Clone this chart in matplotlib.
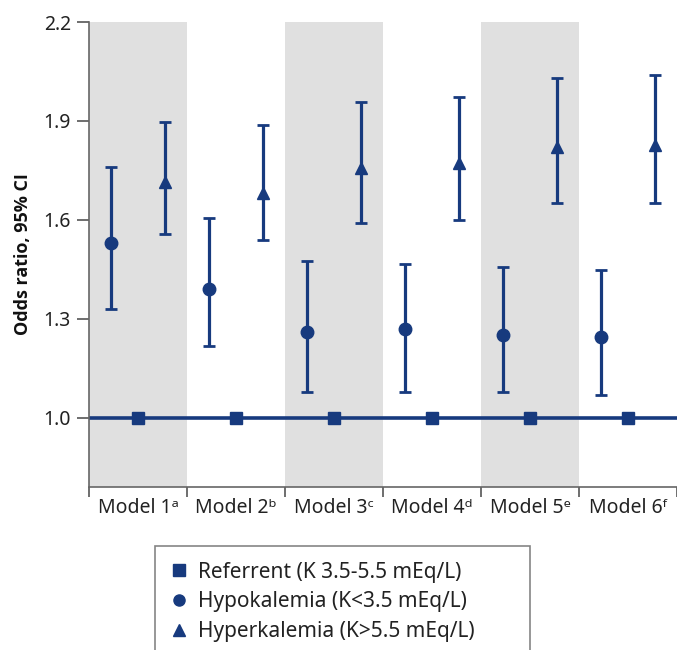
import matplotlib
matplotlib.use("Agg")
import matplotlib.pyplot as plt
from matplotlib.lines import Line2D
import numpy as np

plt.rcParams['font.family'] = ['Noto Sans', 'DejaVu Sans']

models = ["Model 1ᵃ", "Model 2ᵇ", "Model 3ᶜ", "Model 4ᵈ", "Model 5ᵉ", "Model 6ᶠ"]
ref_or = [1.0, 1.0, 1.0, 1.0, 1.0, 1.0]
hypo_or = [1.53, 1.39, 1.26, 1.27, 1.25, 1.245]
hypo_lo = [1.33, 1.218, 1.077, 1.079, 1.077, 1.07]
hypo_hi = [1.76, 1.606, 1.476, 1.467, 1.457, 1.448]
hyper_or = [1.715, 1.68, 1.757, 1.773, 1.82, 1.827]
hyper_lo = [1.558, 1.54, 1.59, 1.60, 1.65, 1.65]
hyper_hi = [1.897, 1.888, 1.958, 1.973, 2.03, 2.04]
legend_labels = ["Referrent (K 3.5-5.5 mEq/L)", "Hypokalemia (K<3.5 mEq/L)", "Hyperkalemia (K>5.5 mEq/L)"]
yticks = [1.0, 1.3, 1.6, 1.9, 2.2]

navy = "#173a7e"
fig = plt.figure(figsize=(6.77, 6.5), dpi=100)
ax = fig.add_axes([89/677, 1-487/650, 1-89/677, (487-22)/650])

n = len(models)
x = np.arange(n)
for i in range(0, n, 2):
    ax.axvspan(i-0.5, i+0.5, color="#e0e0e0", lw=0, zorder=0)

ax.axhline(1.0, color=navy, lw=2.6, zorder=2)
ax.plot(x, ref_or, ls="none", marker="s", ms=8.5, color=navy, zorder=3)

off = 0.275
hx = x - off
ax.errorbar(hx, hypo_or,
            yerr=[np.array(hypo_or)-np.array(hypo_lo), np.array(hypo_hi)-np.array(hypo_or)],
            fmt="o", ms=9, color=navy, ecolor=navy, elinewidth=2.3, capsize=4.5, capthick=2, zorder=3)
tx = x + off
ax.errorbar(tx, hyper_or,
            yerr=[np.array(hyper_or)-np.array(hyper_lo), np.array(hyper_hi)-np.array(hyper_or)],
            fmt="^", ms=9, color=navy, ecolor=navy, elinewidth=2.3, capsize=4.5, capthick=2, zorder=3)

ax.set_xlim(-0.5, n-0.5)
ax.set_ylim(0.79, 2.2)
ax.set_yticks(yticks)
ax.set_yticklabels([f"{v:.1f}" for v in yticks])
ax.set_xticks(np.arange(-0.5, n, 1.0))
ax.set_xticklabels([])
ax.set_xticks(x, minor=True)
ax.set_xticklabels(models, minor=True)
ax.tick_params(axis="x", which="minor", length=0, pad=8, labelsize=14, labelcolor="#222222")
ax.tick_params(axis="x", which="major", length=7, color="#555555", width=1.2)
ax.tick_params(axis="y", length=9, color="#555555", width=1.2, labelsize=14, labelcolor="#222222", pad=4)

for s in ["top", "right"]:
    ax.spines[s].set_visible(False)
for s in ["left", "bottom"]:
    ax.spines[s].set_color("#666666")
    ax.spines[s].set_linewidth(1.2)

ax.set_ylabel("Odds ratio, 95% CI", fontsize=13, fontweight="bold", color="#111111",
              labelpad=8, family=["Open Sans", "DejaVu Sans"])

handles = [Line2D([], [], ls="none", marker="s", ms=8, color=navy),
           Line2D([], [], ls="none", marker="o", ms=8, color=navy),
           Line2D([], [], ls="none", marker="^", ms=8, color=navy)]
leg = fig.legend(handles, legend_labels, loc="upper left",
                 bbox_to_anchor=(155/677, 1-546/650, (530-155)/677, 0), mode="expand",
                 fontsize=15, frameon=True, fancybox=False, edgecolor="#666666",
                 handlelength=0.8, handletextpad=0.5, borderpad=0.75, labelspacing=0.42,
                 borderaxespad=0, labelcolor="#222222")
leg.get_frame().set_linewidth(1.2)

fig.savefig("out.png", dpi=100)
